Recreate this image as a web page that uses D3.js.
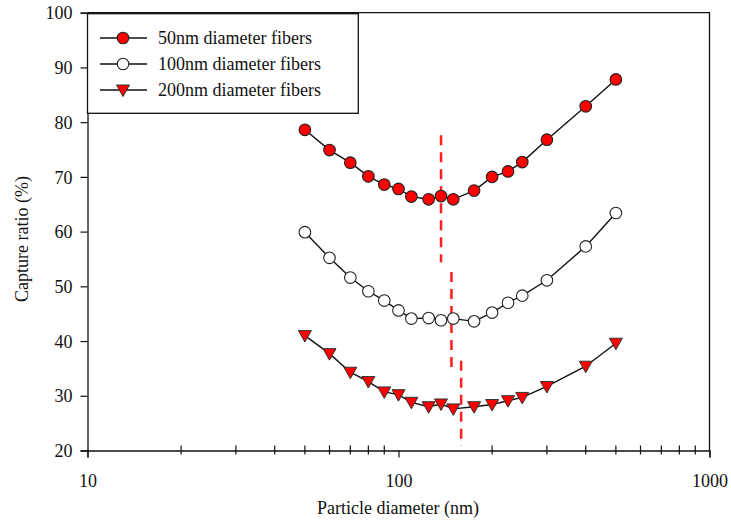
<!DOCTYPE html>
<html>
<head>
<meta charset="utf-8">
<script src="https://cdn.jsdelivr.net/npm/d3@7/dist/d3.min.js"></script>
<style>
  html, body { margin: 0; padding: 0; background: #fff; }
  svg { display: block; }
  text { font-family: "Liberation Serif", "Times New Roman", serif; fill: #111; }
</style>
</head>
<body>
<svg id="chart" width="731" height="521"></svg>
<script>
// ---- data ----
const diameters = [50, 60, 70, 80, 90, 100, 110, 125, 137, 150, 175, 200, 225, 250, 300, 400, 500];
const capture50 = [78.6, 74.9, 72.6, 70.1, 68.6, 67.8, 66.4, 65.9, 66.5, 65.9, 67.5, 70.0, 71.0, 72.7, 76.8, 82.9, 87.8];
const capture100 = [59.9, 55.2, 51.6, 49.1, 47.4, 45.6, 44.1, 44.2, 43.8, 44.1, 43.6, 45.2, 47.0, 48.3, 51.1, 57.3, 63.4];
const capture200 = [41.0, 37.7, 34.3, 32.6, 30.7, 30.2, 28.8, 28.0, 28.5, 27.6, 28.0, 28.4, 29.1, 29.7, 31.7, 35.4, 39.6];
const seriesNames = ["50nm diameter fibers", "100nm diameter fibers", "200nm diameter fibers"];
const mppsDiam = [137, 148, 159];
const mppsTop = [77.6, 52.6, 36.4];
const mppsBottom = [54.4, 34.0, 20.8];
const xMajorTicks = [10, 100, 1000];
const xMinorTicks = [20, 30, 40, 50, 60, 70, 80, 90, 200, 300, 400, 500, 600, 700, 800, 900];
const yTicks = [20, 30, 40, 50, 60, 70, 80, 90, 100];

(function () {
// ---- layout ----
const svg = d3.select("#chart");
const pL = 87.5, pR = 709.5, pT = 12.7, pB = 450.5;
const x = d3.scaleLog().domain([10, 1000]).range([pL, pR]);
const y = d3.scaleLinear().domain([20, 100]).range([pB, pT]);
const FONT = 18;

// frame (top and right)
svg.append("path")
  .attr("d", `M${pL},${pT}H${pR}V${pB}`)
  .attr("fill", "none").attr("stroke", "#111").attr("stroke-width", 1.3);

// y axis
const yAxis = svg.append("g").attr("transform", `translate(${pL},0)`)
  .call(d3.axisLeft(y).tickValues(yTicks).tickSize(7).tickPadding(8).tickFormat(d3.format("d")));
yAxis.select(".domain").attr("stroke", "#111").attr("stroke-width", 1.3);
yAxis.selectAll(".tick line").attr("stroke", "#111").attr("stroke-width", 1.2);
yAxis.selectAll(".tick text").attr("font-size", FONT).attr("font-family", "Liberation Serif").attr("fill", "#111").attr("dy", "0.34em");

// x axis (major)
const xAxis = svg.append("g").attr("transform", `translate(0,${pB})`)
  .call(d3.axisBottom(x).tickValues(xMajorTicks).tickSize(7).tickPadding(17).tickFormat(d3.format("d")));
xAxis.select(".domain").attr("stroke", "#111").attr("stroke-width", 1.3);
xAxis.selectAll(".tick line").attr("stroke", "#111").attr("stroke-width", 1.2);
xAxis.selectAll(".tick text").attr("font-size", FONT).attr("font-family", "Liberation Serif").attr("fill", "#111");

// x minor ticks
svg.append("g").selectAll("line").data(xMinorTicks).join("line")
  .attr("x1", d => x(d)).attr("x2", d => x(d))
  .attr("y1", pB - 5).attr("y2", pB + 4)
  .attr("stroke", "#111").attr("stroke-width", 1.2);

// axis titles
svg.append("text").attr("x", 398).attr("y", 514).attr("text-anchor", "middle")
  .attr("font-size", FONT).text("Particle diameter (nm)");
svg.append("text").attr("transform", "translate(28,239) rotate(-90)").attr("text-anchor", "middle")
  .attr("font-size", FONT).text("Capture ratio (%)");

// dashed MPPS lines
svg.append("g").selectAll("line").data(mppsDiam).join("line")
  .attr("x1", d => x(d)).attr("x2", d => x(d))
  .attr("y1", (d, i) => y(mppsTop[i])).attr("y2", (d, i) => y(mppsBottom[i]))
  .attr("stroke", "#ff1e1e").attr("stroke-width", 2.5).attr("stroke-dasharray", "10,7");

// series
const series = [
  { name: seriesNames[0], values: capture50, fill: "#ff0000", sym: "circle" },
  { name: seriesNames[1], values: capture100, fill: "#ffffff", sym: "circle" },
  { name: seriesNames[2], values: capture200, fill: "#ff0000", sym: "tri" }
];
const line = d3.line().x(d => x(d[0])).y(d => y(d[1]));

function drawMarker(g, sym, fill) {
  if (sym === "circle") {
    g.append("circle").attr("r", 5.8).attr("fill", fill).attr("stroke", "#222").attr("stroke-width", 1.1);
  } else {
    g.append("path").attr("d", "M-6.5,-5L6.5,-5L0,6.5Z").attr("fill", fill).attr("stroke", "#333").attr("stroke-width", 1);
  }
}

series.forEach(s => {
  const pts = diameters.map((d, i) => [d, s.values[i]]);
  svg.append("path").datum(pts).attr("d", line)
    .attr("fill", "none").attr("stroke", "#111").attr("stroke-width", 1.4);
  svg.append("g").selectAll("g").data(pts).join("g")
    .attr("transform", d => `translate(${x(d[0])},${y(d[1])})`)
    .each(function () { drawMarker(d3.select(this), s.sym, s.fill); });
});

// legend
const lg = svg.append("g");
lg.append("rect").attr("x", pL).attr("y", pT + 1).attr("width", 358.3 - pL).attr("height", 113.3 - pT - 1)
  .attr("fill", "#fff").attr("stroke", "#111").attr("stroke-width", 1.3);
const rowY = [38, 64, 90];
series.forEach((s, i) => {
  const r = lg.append("g").attr("transform", `translate(0,${rowY[i]})`);
  r.append("line").attr("x1", 100).attr("x2", 147).attr("y1", 0).attr("y2", 0).attr("stroke", "#111").attr("stroke-width", 1.4);
  const m = r.append("g").attr("transform", "translate(123,0)");
  drawMarker(m, s.sym, s.fill);
  r.append("text").attr("x", 158).attr("y", 0).attr("dy", "0.34em").attr("font-size", FONT).text(s.name);
});
})();
</script>
</body>
</html>
